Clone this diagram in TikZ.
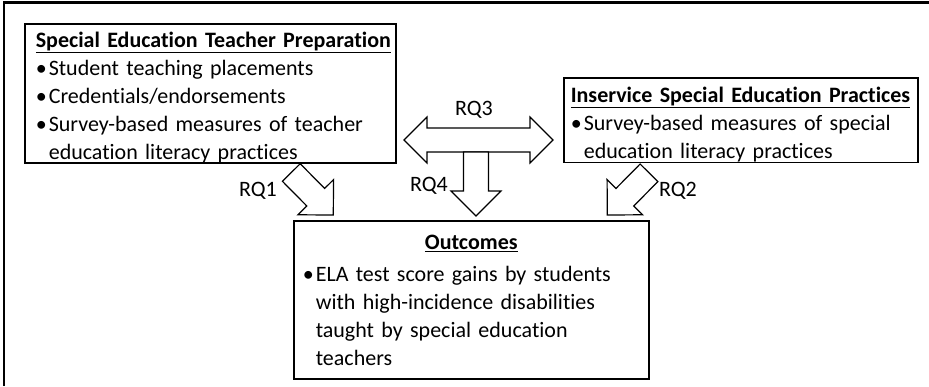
\documentclass[tikz,border=0pt]{standalone}
\usepackage{fontspec}
\setmainfont{Carlito}[Ligatures={NoCommon}]
\usetikzlibrary{calc}

\newcommand{\bul}{\makebox[13pt][l]{\textbullet}}

\begin{document}
\begin{tikzpicture}[x=1pt,y=-1pt,font=\fontsize{22}{28}\selectfont,
  box/.style={draw,line width=1.6pt,anchor=north west,align=left,inner ysep=0pt},
  blockarrow/.style={draw,line width=1.2pt,fill=white,line join=miter}]

\useasboundingbox (0,0) rectangle (929,386);
\draw[line width=2.5pt] (4,386) -- (4,2.5) -- (929,2.5);
%
\node[box,inner xsep=11pt,text width=349pt] (prep) at (24,23)
 {\rule{0pt}{23.5pt}\textbf{\underline{Special Education Teacher Preparation}}\\
  \mbox{\bul Student teaching placements}\\
  \mbox{\bul Credentials/endorsements}\\
  \mbox{\bul Survey-based measures of teacher}\\
  \mbox{\hspace*{13pt}education literacy practices}};
%
\node[box,inner xsep=7pt,text width=340pt] (inserv) at (563,77)
 {\rule{0pt}{25pt}\textbf{\underline{Inservice Special Education Practices}}\\
  \mbox{\bul Survey-based measures of special}\\
  \mbox{\hspace*{13pt}education literacy practices}};
%
\node[box,inner xsep=9pt,text width=337pt] (outc) at (293,220)
 {\makebox[\linewidth]{\rule{0pt}{29pt}\textbf{\underline{Outcomes}}}\\[4pt]
  \mbox{\bul ELA test score gains by students}\\
  \mbox{\hspace*{13pt}with high-incidence disabilities}\\
  \mbox{\hspace*{13pt}taught by special education}\\
  \mbox{\hspace*{13pt}teachers\rule[-13pt]{0pt}{13pt}}};
%
\coordinate (rq3l) at (404,140);
\coordinate (rq3r) at (553,140);
\draw[blockarrow] (rq3l) -- ++(23,-23) -- ++(0,11) -- ($(rq3r)+(-23,-12)$)
 -- ++(0,-11) -- (rq3r) -- ++(-23,23) -- ++(0,-11) -- ($(rq3l)+(23,12)$)
 -- ++(0,11) -- cycle;
%
\coordinate (rq1s) at (291.3,172.5);
\coordinate (rq1t) at (333.3,215);
\coordinate (rq2s) at (649,172.8);
\coordinate (rq2t) at (607.3,215);
\coordinate (rq4s) at (476,152);
\coordinate (rq4t) at (476,216);
\foreach \s/\t in {rq1s/rq1t,rq2s/rq2t,rq4s/rq4t}
{\coordinate (hb) at ($(\t)!25pt!(\s)$);
 \draw[blockarrow] ($(\s)!12.5pt!90:(\t)$) -- ($(hb)!12.5pt!90:(\t)$)
  -- ($(hb)!25pt!90:(\t)$) -- (\t) -- ($(hb)!25pt!-90:(\t)$)
  -- ($(hb)!12.5pt!-90:(\t)$) -- ($(\s)!12.5pt!-90:(\t)$) -- cycle;}
%
\node (rq1) at (258,191) {RQ1};
\node (rq2) at (678,191) {RQ2};
\node (rq3) at (474,110) {RQ3};
\node (rq4) at (429,186) {RQ4};
\end{tikzpicture}
\end{document}
